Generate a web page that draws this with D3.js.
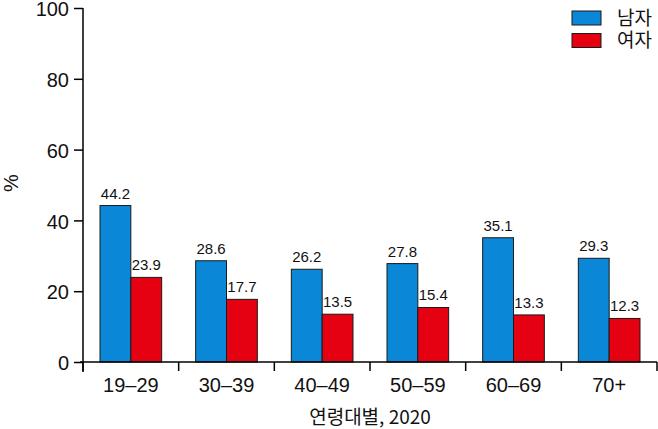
<!DOCTYPE html>
<html>
<head>
<meta charset="utf-8">
<script src="https://cdn.jsdelivr.net/npm/d3@7"></script>
<style>
  body { margin: 0; background: #fff; }
  text { font-family: "Liberation Sans", Arial, sans-serif; fill: #111; }
  .kr { font-family: "Noto Sans CJK KR", "Liberation Sans", sans-serif; }
</style>
</head>
<body>
<div class="canvas"></div>
<script>
const ageGroups = ['19\u201329', '30\u201339', '40\u201349', '50\u201359', '60\u201369', '70+'];
const seriesNames = ['남자', '여자'];
const maleValues = [44.2, 28.6, 26.2, 27.8, 35.1, 29.3];
const femaleValues = [23.9, 17.7, 13.5, 15.4, 13.3, 12.3];
const yTicks = [0, 20, 40, 60, 80, 100];

const W = 658, H = 429;
const plot = { left: 83, right: 657, top: 8, bottom: 362 };
const colour = d3.scaleOrdinal(seriesNames, ['#0a87d7', '#e50012']);

const svg = d3.select('.canvas')
  .append('svg')
  .attr('width', W)
  .attr('height', H);

// scales
const x = d3.scaleBand()
  .domain(ageGroups)
  .range([plot.left, plot.right]);
const xInner = d3.scaleBand()
  .domain(seriesNames)
  .range([17, x.bandwidth() - 17]);
const y = d3.scaleLinear()
  .domain([0, 100])
  .range([plot.bottom, plot.top]);

const rows = ageGroups.map((g, i) => ({
  group: g,
  values: [
    { name: seriesNames[0], value: maleValues[i] },
    { name: seriesNames[1], value: femaleValues[i] }
  ]
}));

// bars
const groups = svg.append('g').selectAll('g')
  .data(rows)
  .join('g')
    .attr('transform', d => `translate(${x(d.group)},0)`);

groups.selectAll('rect')
  .data(d => d.values)
  .join('rect')
    .attr('x', d => xInner(d.name))
    .attr('y', d => y(d.value))
    .attr('width', xInner.bandwidth())
    .attr('height', d => y(0) - y(d.value))
    .attr('fill', d => colour(d.name))
    .attr('stroke', '#1a1a1a')
    .attr('stroke-width', 1);

groups.selectAll('text')
  .data(d => d.values)
  .join('text')
    .attr('x', d => xInner(d.name) + xInner.bandwidth() / 2)
    .attr('y', d => y(d.value) - 7)
    .attr('text-anchor', 'middle')
    .attr('font-size', 15)
    .text(d => d.value.toFixed(1));

// y axis
const yAxis = svg.append('g')
  .attr('transform', `translate(${plot.left},0)`)
  .call(d3.axisLeft(y).tickValues(yTicks).tickSize(9).tickPadding(5));
yAxis.select('.domain').attr('d', `M0,${plot.top}V${plot.bottom + 10}`);

// x axis, ticks sit at the band edges
const edges = ageGroups.map(g => x(g)).concat([plot.right]);
const xAxis = svg.append('g')
  .attr('transform', `translate(0,${plot.bottom})`);
xAxis.append('path')
  .attr('d', `M${plot.left - 3},0H${plot.right}`)
  .attr('stroke', '#000')
  .attr('stroke-width', 1.5);
xAxis.selectAll('line')
  .data(edges)
  .join('line')
    .attr('x1', d => d).attr('x2', d => d)
    .attr('y1', 0).attr('y2', 9)
    .attr('stroke', '#000')
    .attr('stroke-width', 1.5);
xAxis.selectAll('text')
  .data(ageGroups)
  .join('text')
    .attr('x', d => x(d) + x.bandwidth() / 2)
    .attr('y', 30)
    .attr('text-anchor', 'middle')
    .attr('font-size', 20)
    .text(d => d);

svg.selectAll('.domain, .tick line').attr('stroke', '#000').attr('stroke-width', 1.5);
yAxis.selectAll('text')
  .attr('font-size', 20)
  .attr('dy', '0.38em')
  .attr('font-family', '"Liberation Sans", Arial, sans-serif')
  .attr('fill', '#111');

// axis titles
svg.append('text')
  .attr('class', 'kr')
  .attr('x', (plot.left + plot.right) / 2)
  .attr('y', 424)
  .attr('text-anchor', 'middle')
  .attr('font-size', 19)
  .text('연령대별, 2020');

svg.append('text')
  .attr('transform', 'translate(18,183) rotate(-90)')
  .attr('text-anchor', 'middle')
  .attr('font-size', 20)
  .text('%');

// legend
const legend = svg.append('g')
  .attr('transform', 'translate(572,11)');
const items = legend.selectAll('g')
  .data(seriesNames)
  .join('g')
    .attr('transform', (d, i) => `translate(0,${i * 22.5})`);
items.append('rect')
  .attr('width', 29)
  .attr('height', 14)
  .attr('fill', d => colour(d))
  .attr('stroke', '#1a1a1a')
  .attr('stroke-width', 1);
items.append('text')
  .attr('class', 'kr')
  .attr('x', 45)
  .attr('y', 7)
  .attr('dy', '0.36em')
  .attr('font-size', 19)
  .text(d => d);
</script>
</body>
</html>
